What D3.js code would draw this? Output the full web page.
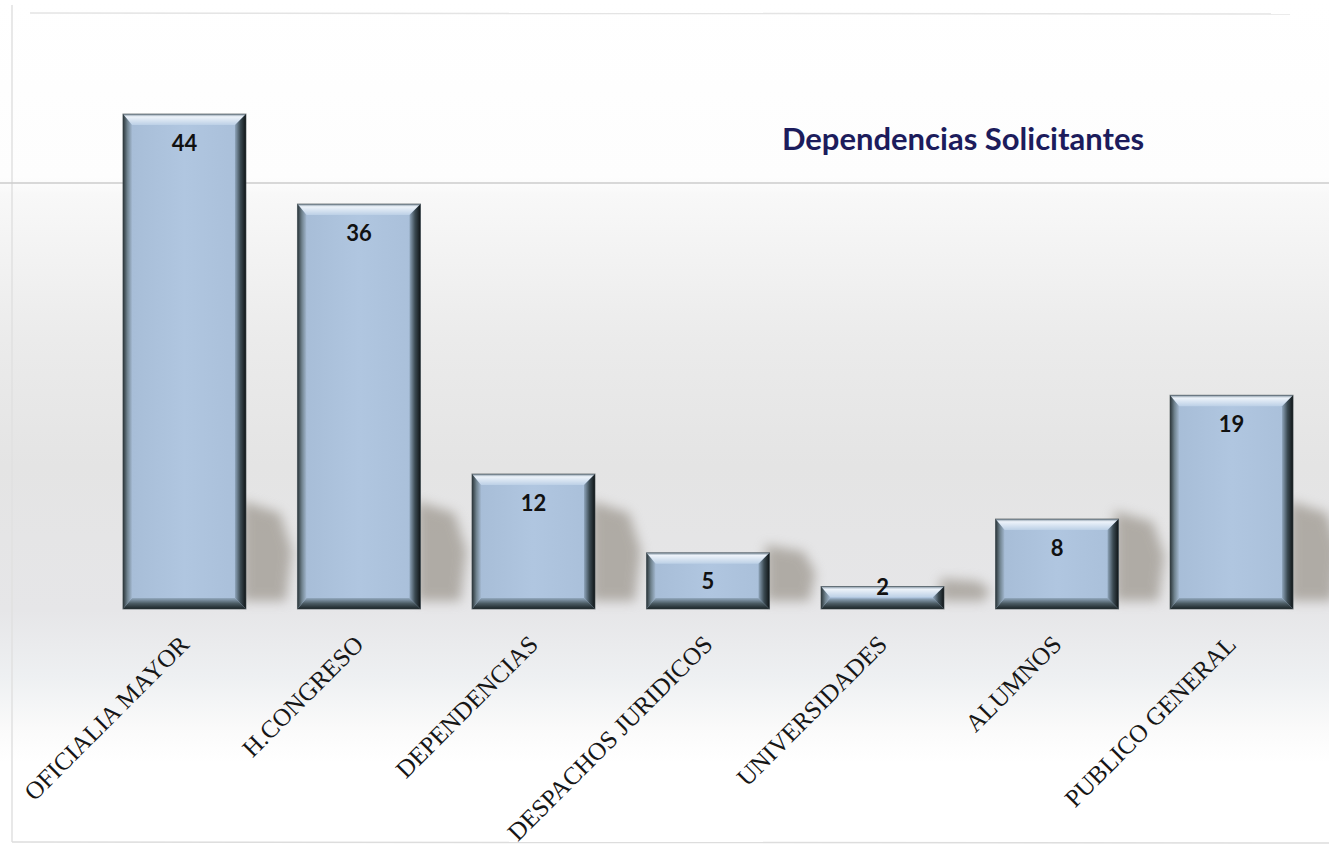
<!DOCTYPE html>
<html>
<head>
<meta charset="utf-8">
<script src="https://cdn.jsdelivr.net/npm/d3@7"></script>
<style>
  html, body { margin: 0; padding: 0; background: #ffffff; }
  svg { display: block; }
</style>
</head>
<body>
<div id="chart"></div>
<script>
const categories = ["OFICIALIA MAYOR", "H.CONGRESO", "DEPENDENCIAS", "DESPACHOS JURIDICOS", "UNIVERSIDADES", "ALUMNOS", "PUBLICO GENERAL"];
const values = [44, 36, 12, 5, 2, 8, 19];
const title = "Dependencias Solicitantes";

const W = 1329, H = 847;
const baseline = 609;

const svg = d3.select("#chart").append("svg").attr("width", W).attr("height", H);
const defs = svg.append("defs");

// background gradient
const bg = defs.append("linearGradient").attr("id", "bg").attr("x1", 0).attr("y1", 0).attr("x2", 0).attr("y2", 1);
[[0, "#ffffff"], [0.21, "#fdfdfd"], [0.23, "#f8f8f8"], [0.4, "#ebebeb"], [0.55, "#e4e4e4"], [0.72, "#e6e6e8"], [0.8, "#eef0f2"], [0.86, "#fafafa"], [0.9, "#ffffff"], [1, "#ffffff"]]
  .forEach(([o, c]) => bg.append("stop").attr("offset", o).attr("stop-color", c));

svg.append("rect").attr("x", 0).attr("y", 0).attr("width", W).attr("height", H).attr("fill", "url(#bg)");

// frame lines
svg.append("line").attr("x1", 30).attr("x2", 1290).attr("y1", 13).attr("y2", 14).attr("stroke", "#e4e4e4").attr("stroke-width", 1.5);
svg.append("line").attr("x1", 12).attr("x2", 12).attr("y1", 5).attr("y2", 842).attr("stroke", "#e0e0e0").attr("stroke-width", 1.5);
svg.append("line").attr("x1", 12).attr("x2", W).attr("y1", 842).attr("y2", 843).attr("stroke", "#dddddd").attr("stroke-width", 1.5);
svg.append("line").attr("x1", 0).attr("x2", W).attr("y1", 183).attr("y2", 183).attr("stroke", "#cdcdcd").attr("stroke-width", 1.5);

// scales
const x = d3.scaleBand().domain(categories).range([105.5, 1310.5]).paddingInner(0.295).paddingOuter(0.1);
const y = d3.scaleLinear().domain([0, 50]).range([baseline, baseline - 50 * 11.25]);

// filters
defs.append("filter").attr("id", "blur").attr("x", "-50%").attr("y", "-50%").attr("width", "200%").attr("height", "200%")
  .append("feGaussianBlur").attr("stdDeviation", 6);

function grad(id, x1, y1, x2, y2, stops) {
  const g = defs.append("linearGradient").attr("id", id).attr("x1", x1).attr("y1", y1).attr("x2", x2).attr("y2", y2);
  stops.forEach(([o, c]) => g.append("stop").attr("offset", o).attr("stop-color", c));
}
grad("face", 0, 0, 1, 0, [[0, "#a6bcd6"], [0.5, "#b0c6e0"], [1, "#a9bfd9"]]);
grad("bevTop", 0, 0, 0, 1, [[0, "#7d8f9e"], [0.25, "#edf3fa"], [1, "#bcd0e6"]]);
grad("bevLeft", 0, 0, 1, 0, [[0, "#2a3438"], [0.5, "#70838f"], [1, "#a3b8d0"]]);
grad("bevRight", 1, 0, 0, 0, [[0, "#0f1416"], [0.5, "#3b4a52"], [1, "#8fa5bb"]]);
grad("bevBot", 0, 1, 0, 0, [[0, "#1a2326"], [0.5, "#4b5b63"], [1, "#93a9bf"]]);

const data = categories.map((c, i) => ({ c, v: values[i] }));

// shadows
svg.append("g").selectAll("path").data(data).join("path")
  .attr("d", d => {
    const r = x(d.c) + x.bandwidth();
    const h = Math.min(baseline - y(d.v), 100);
    const b = baseline - 8;
    return `M${r - 4},${b} L${r - 4},${b - h} L${r + 34},${b - h * 0.88} L${r + 46},${b - h * 0.5} L${r + 40},${b} Z`;
  })
  .attr("fill", "#8c857a").attr("opacity", 0.6).attr("filter", "url(#blur)");

// bars
const bars = svg.append("g").selectAll("g").data(data).join("g");
bars.each(function(d) {
  const g = d3.select(this);
  const x0 = x(d.c), x1 = x0 + x.bandwidth();
  const y0 = y(d.v), y1 = baseline;
  const b = Math.min(11, (y1 - y0) / 2 - 0.5);
  const bl = 9, br = 11;
  g.append("rect").attr("x", x0).attr("y", y0).attr("width", x1 - x0).attr("height", y1 - y0).attr("fill", "url(#face)");
  g.append("polygon").attr("points", `${x0},${y0} ${x1},${y0} ${x1 - br},${y0 + b} ${x0 + bl},${y0 + b}`).attr("fill", "url(#bevTop)");
  g.append("polygon").attr("points", `${x0},${y1} ${x1},${y1} ${x1 - br},${y1 - b} ${x0 + bl},${y1 - b}`).attr("fill", "url(#bevBot)");
  g.append("polygon").attr("points", `${x0},${y0} ${x0 + bl},${y0 + b} ${x0 + bl},${y1 - b} ${x0},${y1}`).attr("fill", "url(#bevLeft)");
  g.append("polygon").attr("points", `${x1},${y0} ${x1 - br},${y0 + b} ${x1 - br},${y1 - b} ${x1},${y1}`).attr("fill", "url(#bevRight)");
  g.append("rect").attr("x", x0).attr("y", y0).attr("width", x1 - x0).attr("height", y1 - y0)
    .attr("fill", "none").attr("stroke", "#3a4448").attr("stroke-width", 1).attr("stroke-opacity", 0.6);
});

// value labels
svg.append("g").selectAll("text").data(data).join("text")
  .attr("x", d => x(d.c) + x.bandwidth() / 2)
  .attr("y", d => Math.min(y(d.v) + 29, baseline - 22))
  .attr("dy", "0.35em")
  .attr("text-anchor", "middle")
  .attr("font-family", "Lato, 'Open Sans', sans-serif")
  .attr("font-weight", 700)
  .attr("font-size", 22)
  .attr("fill", "#111111")
  .text(d => d.v);

// category labels
svg.append("g").selectAll("text").data(data).join("text")
  .attr("transform", d => `translate(${x(d.c) + x.bandwidth() / 2 + 6},${baseline + 37}) rotate(-45)`)
  .attr("text-anchor", "end")
  .attr("font-family", "'Liberation Serif', 'Times New Roman', serif")
  .attr("font-size", 25)
  .attr("fill", "#161616")
  .text(d => d.c);

// title
svg.append("text")
  .attr("x", 963).attr("y", 150)
  .attr("text-anchor", "middle")
  .attr("font-family", "Lato, 'Open Sans', sans-serif")
  .attr("font-weight", 700)
  .attr("font-size", 31)
  .attr("fill", "#1c1c5c")
  .text(title);
</script>
</body>
</html>
